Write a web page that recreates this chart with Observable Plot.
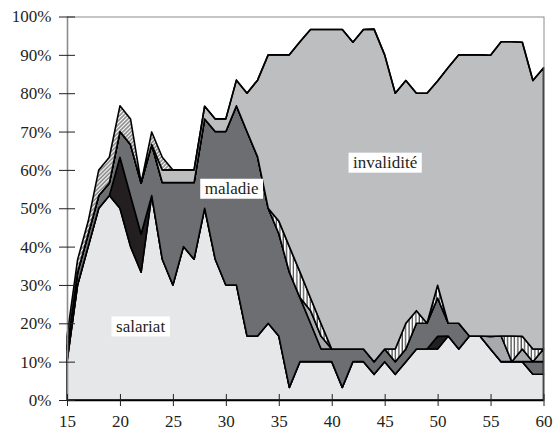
<!DOCTYPE html>
<html>
<head>
<meta charset="utf-8">
<script src="https://cdn.jsdelivr.net/npm/d3@7"></script>
<script src="https://cdn.jsdelivr.net/npm/@observablehq/plot@0.6"></script>
<style>
  body { margin: 0; background: #fff; }
  #chart svg { display: block; }
</style>
</head>
<body>
<div id="chart"></div>
<script>
// Ages 15..60
const ages = d3.range(15, 61);

// Layer values (% of people at each age), bottom to top
const salariat = [10, 30, 40, 50, 53.3, 50, 40, 33.3, 53.3, 36.7, 30, 40, 36.7, 50, 36.7, 30, 30, 16.7, 16.7, 20, 16.7, 3.3, 10, 10, 10, 10, 3.3, 10, 10, 6.7, 10, 6.7, 10, 13.3, 13.3, 13.3, 16.7, 13.3, 16.7, 16.7, 13.3, 10, 10, 10, 6.7, 6.7];
const noir = [0, 0, 0, 0, 0, 13.3, 13.3, 10, 0, 0, 0, 0, 0, 0, 0, 0, 0, 0, 0, 0, 0, 0, 0, 0, 0, 0, 0, 0, 0, 0, 0, 0, 0, 0, 0, 3.3, 0, 0, 0, 0, 0, 0, 0, 0, 0, 0];
const maladie = [3.3, 3.3, 3.3, 3.3, 3.3, 6.7, 13.3, 13.3, 13.3, 20, 26.7, 16.7, 20, 23.3, 33.3, 40, 46.7, 53.3, 46.7, 30, 26.7, 30, 16.7, 10, 3.3, 3.3, 10, 3.3, 3.3, 3.3, 3.3, 3.3, 3.3, 6.7, 6.7, 10, 3.3, 6.7, 0, 0, 0, 0, 0, 0, 3.3, 3.3];
const gris = [0, 0, 0, 0, 0, 0, 0, 0, 0, 0, 0, 0, 0, 0, 0, 0, 0, 0, 0, 0, 0, 0, 0, 3.3, 3.3, 0, 0, 0, 0, 0, 0, 0, 0, 0, 0, 0, 0, 0, 0, 0, 3.3, 6.7, 0, 3.3, 0, 3.3];
const hachureVerticale = [0, 0, 0, 0, 0, 0, 0, 0, 0, 0, 0, 0, 0, 0, 0, 0, 0, 0, 0, 0, 3.3, 6.7, 6.7, 3.3, 3.3, 0, 0, 0, 0, 0, 0, 3.3, 6.7, 3.3, 0, 3.3, 0, 0, 0, 0, 0, 0, 6.7, 3.3, 3.3, 0];
const invalidite = [0, 0, 0, 0, 0, 0, 0, 0, 0, 3.3, 3.3, 3.3, 3.3, 3.3, 3.3, 3.3, 6.7, 10, 20, 40, 43.3, 50, 60, 70, 76.7, 83.3, 83.3, 80, 83.3, 86.7, 76.7, 66.7, 63.3, 56.7, 60, 53.3, 66.7, 70, 73.3, 73.3, 73.3, 76.7, 76.7, 76.7, 70, 73.3];
const hachureOblique = [3.3, 3.3, 3.3, 6.7, 6.7, 6.7, 6.7, 0, 3.3, 3.3, 0, 0, 0, 0, 0, 0, 0, 0, 0, 0, 0, 0, 0, 0, 0, 0, 0, 0, 0, 0, 0, 0, 0, 0, 0, 0, 0, 0, 0, 0, 0, 0, 0, 0, 0, 0];

const layerNames = ["salariat", "noir", "maladie", "gris", "hachure verticale", "invalidité", "hachure oblique"];
const layerFills = ["#e6e7e8", "#231f20", "#6d6e71", "#a7a9ac", "url(#hv)", "#bcbec0", "url(#hd)"];

// Axis ticks
const xTicks = [15, 20, 25, 30, 35, 40, 45, 50, 55, 60];
const yTicks = [0, 10, 20, 30, 40, 50, 60, 70, 80, 90, 100];

// In-chart labels
const labelNames = ["salariat", "maladie", "invalidité"];
const labelAges = [21.9, 30.5, 45.0];
const labelPcts = [19.3, 55.2, 62.0];

const FONT = "Liberation Serif";

const series = [salariat, noir, maladie, gris, hachureVerticale, invalidite, hachureOblique];
const rows = [];
series.forEach((vals, k) => vals.forEach((v, i) => rows.push({age: ages[i], layer: layerNames[k], value: v})));

const plot = Plot.plot({
  width: 553,
  height: 437,
  marginLeft: 67,
  marginRight: 9.5,
  marginTop: 16.5,
  marginBottom: 37,
  style: {fontSize: "17px", color: "#231f20", background: "#fff"},
  x: {domain: [15, 60]},
  y: {domain: [0, 100]},
  color: {domain: layerNames, range: layerFills},
  marks: [
    Plot.areaY(rows, Plot.stackY({x: "age", y: "value", fill: "layer", order: layerNames, stroke: "#000", strokeWidth: 1.6})),
    Plot.frame({stroke: "#8c8c8c", strokeWidth: 1}),
    Plot.ruleX([15], {stroke: "#8c8c8c", strokeWidth: 1.6}),
    Plot.ruleY([0], {stroke: "#000", strokeWidth: 1.6}),
    Plot.axisY({ticks: yTicks, tickSize: 16, dx: 8, tickFormat: () => "", label: null}),
    Plot.axisY({ticks: yTicks, tickSize: 0, tickPadding: 16, tickFormat: d => d + "%", label: null, fontFamily: FONT, fontSize: 17}),
    Plot.axisX({ticks: xTicks, tickSize: 12, dy: -6, tickFormat: () => "", label: null}),
    Plot.axisX({ticks: xTicks, tickSize: 0, tickPadding: 14, tickFormat: d => String(d), label: null, fontFamily: FONT, fontSize: 17}),
    Plot.text(labelNames, {x: (d, i) => labelAges[i], y: (d, i) => labelPcts[i], text: d => d, fontSize: 17, fontFamily: FONT, fill: "#231f20"})
  ]
});

document.getElementById("chart").append(plot);
const svg = plot.tagName.toLowerCase() === "svg" ? plot : plot.querySelector("svg");
svg.setAttribute("font-family", FONT);
svg.querySelectorAll("text").forEach(t => {
  const prev = t.getAttribute("style") || "";
  t.setAttribute("style", prev + (prev && !prev.trim().endsWith(";") ? ";" : "") + "font-family:'Liberation Serif'");
});

const ns = "http://www.w3.org/2000/svg";
const defs = document.createElementNS(ns, "defs");
defs.innerHTML =
  '<pattern id="hv" patternUnits="userSpaceOnUse" width="3.4" height="10">' +
  '<rect width="3.4" height="10" fill="#fff"/><line x1="1" y1="0" x2="1" y2="10" stroke="#000" stroke-width="0.9"/></pattern>' +
  '<pattern id="hd" patternUnits="userSpaceOnUse" width="2.8" height="10" patternTransform="rotate(45)">' +
  '<rect width="2.8" height="10" fill="#fff"/><line x1="1" y1="0" x2="1" y2="10" stroke="#000" stroke-width="0.8"/></pattern>';
svg.insertBefore(defs, svg.firstChild);

// white boxes behind in-chart labels
const textGroups = [...svg.querySelectorAll('g[aria-label="text"]')];
const lg = textGroups[textGroups.length - 1];
if (lg) {
  lg.querySelectorAll("text").forEach(t => {
    const b = t.getBBox();
    const r = document.createElementNS(ns, "rect");
    r.setAttribute("x", b.x - 4.5);
    r.setAttribute("y", b.y - 0.5);
    r.setAttribute("width", b.width + 9);
    r.setAttribute("height", b.height + 1);
    r.setAttribute("fill", "#fff");
    const tr = t.getAttribute("transform");
    if (tr) r.setAttribute("transform", tr);
    t.parentNode.insertBefore(r, t);
  });
}
</script>
</body>
</html>
